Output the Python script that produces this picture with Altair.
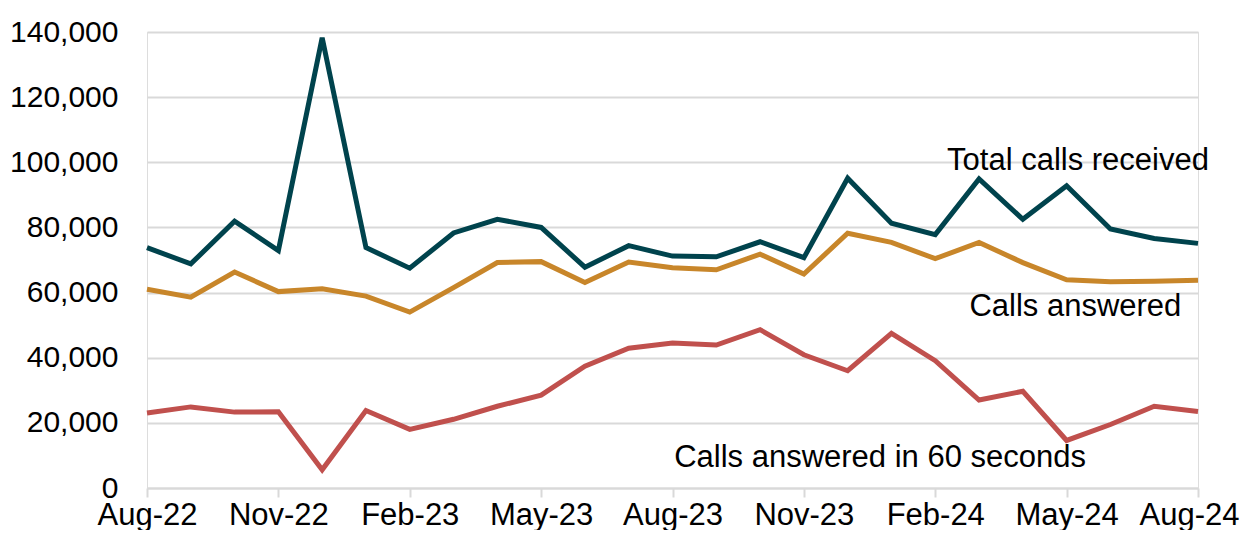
import altair as alt
import pandas as pd

months = ["Aug-22", "Sep-22", "Oct-22", "Nov-22", "Dec-22", "Jan-23", "Feb-23",
          "Mar-23", "Apr-23", "May-23", "Jun-23", "Jul-23", "Aug-23", "Sep-23",
          "Oct-23", "Nov-23", "Dec-23", "Jan-24", "Feb-24", "Mar-24", "Apr-24",
          "May-24", "Jun-24", "Jul-24", "Aug-24"]

total_calls = [73800, 68800, 81900, 72900, 138200, 73800, 67500,
               78300, 82500, 80000, 67800, 74400, 71200, 71000,
               75600, 70700, 95100, 81300, 77800, 94900, 82500,
               92800, 79500, 76600, 75100]

calls_answered = [61000, 58600, 66300, 60300, 61200, 58900, 54000,
                  61500, 69200, 69500, 63100, 69400, 67600, 67000,
                  71800, 65700, 78200, 75400, 70400, 75400, 69200,
                  63900, 63300, 63500, 63800]

answered_60s = [23000, 24900, 23300, 23400, 5600, 23800, 18000,
                21100, 25100, 28500, 37400, 42900, 44500, 43900,
                48600, 40900, 36000, 47500, 39100, 27000, 29700,
                14600, 19500, 25100, 23500]

series_names = ["Total calls received", "Calls answered", "Calls answered in 60 seconds"]
series_colors = ["#00434D", "#C8862A", "#C0504D"]

# annotation positions (in data units)
label_x = [21.26, 21.2, 16.74]
label_y = [100300, 55600, 9200]

rows = []
for name, vals in zip(series_names, [total_calls, calls_answered, answered_60s]):
    for i, v in enumerate(vals):
        rows.append({"idx": i, "month": months[i], "value": v, "series": name})
df = pd.DataFrame(rows)

lab_df = pd.DataFrame({"series": series_names, "x": label_x, "y": label_y})

label_expr = "[" + ",".join("'" + m + "'" for m in months) + "][datum.value]"
FONT = "Liberation Sans"
last = len(months) - 1

x_enc = alt.X("idx:Q",
              scale=alt.Scale(domain=[0, last], nice=False, zero=False),
              axis=alt.Axis(values=list(range(0, len(months), 3)), labelExpr=label_expr,
                            title=None, grid=False, domainColor="#D9D9D9", domainWidth=2,
                            tickColor="#D9D9D9", tickWidth=2, tickSize=9,
                            labelFont=FONT, labelFontSize=31, labelColor="#000000",
                            labelPadding=3, labelFlush=False, labelOverlap=False,
                            labelOffset={"expr": f"datum.value == {last} ? -9 : 0"}))

y_enc = alt.Y("value:Q",
              scale=alt.Scale(domain=[0, 140000], nice=False),
              axis=alt.Axis(values=list(range(0, 140001, 20000)), format=",.0f",
                            title=None, grid=True, gridColor="#D9D9D9", gridWidth=2,
                            domain=False, ticks=False,
                            labelFont=FONT, labelFontSize=30, labelColor="#000000",
                            labelPadding=29))

lines = alt.Chart(df).mark_line(strokeWidth=5, strokeJoin="miter", strokeCap="butt").encode(
    x=x_enc, y=y_enc,
    color=alt.Color("series:N", scale=alt.Scale(domain=series_names, range=series_colors),
                    legend=None),
)

labels = alt.Chart(lab_df).mark_text(font=FONT, fontSize=31, color="#000000",
                                     align="center", baseline="middle").encode(
    x=alt.X("x:Q"), y=alt.Y("y:Q"), text="series:N"
)

chart = alt.layer(lines, labels).properties(
    width=1051, height=456,
    autosize=alt.AutoSizeParams(type="none"),
    padding={"left": 139, "top": 24, "right": 43, "bottom": 42},
).configure_view(stroke=None).configure(background="#FFFFFF")

chart.save("out.html", embed_options={"renderer": "svg", "actions": False})
